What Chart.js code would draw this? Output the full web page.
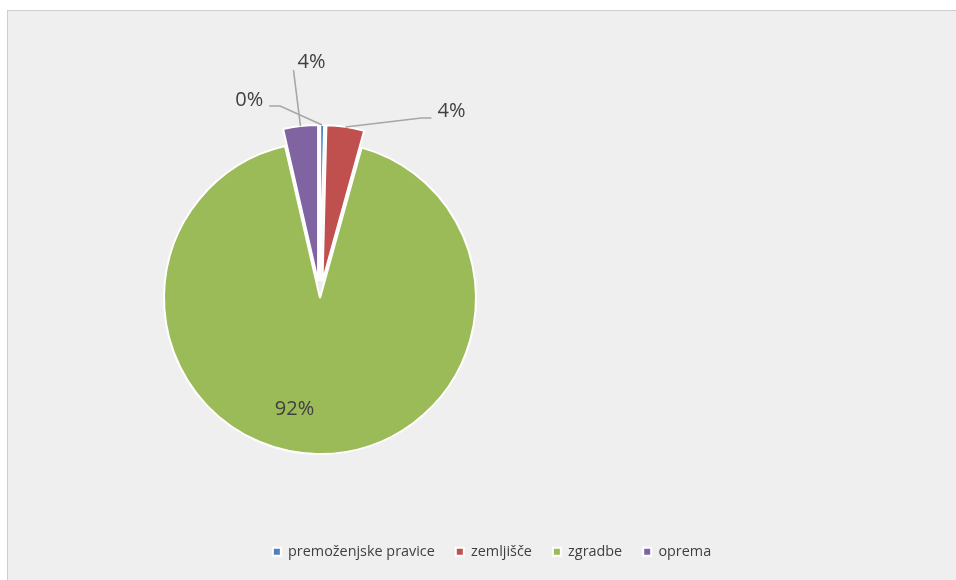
<!DOCTYPE html>
<html>
<head>
<meta charset="utf-8">
<script src="https://cdn.jsdelivr.net/npm/chart.js@4.4.1/dist/chart.umd.min.js"></script>
<style>
    html, body { margin: 0; padding: 0; background: #fff; overflow: hidden; }
    #frame { position: absolute; left: 7px; top: 10px; width: 970px; height: 580px; background: #efefef; border-left: 1px solid #cdcdcd; border-top: 1px solid #cdcdcd; }
    #pie { position: absolute; left: 0; top: 0; }
</style>
</head>
<body>
<div id="frame"></div>
<canvas id="pie" width="956" height="580"></canvas>
<script>
const categories = ['premoženjske pravice', 'zemljišče', 'zgradbe', 'oprema'];
const shares = [0.4, 3.9, 92.1, 3.6];
const colors = ['#4f81bd', '#c0504d', '#9bbb59', '#8064a2'];

// how far each slice is pulled out of the pie (px)
const explode = [17, 17, 0, 17];
// where each percentage label sits, relative to the outer edge of its slice,
// and the bends of its leader line
const labelPlace = [
    { dx: -73, dy: -25, line: [[-42, -19], [-53, -19]] },
    { dx: 106, dy: -16, line: [[76, -9], [86, -9]] },
    { dx: -22, dy: -45, line: null },
    { dx: 11, dy: -64, line: [[-7, -56]] }
];
const pieCenter = { x: 320, y: 298 };

const placePie = {
    id: 'placePie',
    afterLayout(chart) {
        const a = chart.chartArea;
        a.right = 2 * pieCenter.x - a.left;
        a.top = 2 * pieCenter.y - a.bottom;
        a.width = a.right - a.left;
        a.height = a.bottom - a.top;
    },
    afterDatasetUpdate(chart, args) {
        args.meta.data.forEach(function(arc, i) {
            const mid = (arc.startAngle + arc.endAngle) / 2;
            arc.x += Math.cos(mid) * explode[i];
            arc.y += Math.sin(mid) * explode[i];
        });
    }
};

const pctLabels = {
    id: 'pctLabels',
    afterDatasetsDraw(chart) {
        const ctx = chart.ctx;
        const total = shares.reduce((s, v) => s + v, 0);
        chart.getDatasetMeta(0).data.forEach(function(arc, i) {
            const mid = (arc.startAngle + arc.endAngle) / 2;
            const ax = arc.x + Math.cos(mid) * arc.outerRadius;
            const ay = arc.y + Math.sin(mid) * arc.outerRadius;
            const p = labelPlace[i];
            ctx.save();
            if (p.line) {
                ctx.strokeStyle = '#a6a6a6';
                ctx.lineWidth = 1.5;
                ctx.beginPath();
                ctx.moveTo(ax, ay);
                p.line.forEach(pt => ctx.lineTo(ax + pt[0], ay + pt[1]));
                ctx.stroke();
            }
            ctx.fillStyle = '#404040';
            ctx.font = '20px "Open Sans", sans-serif';
            ctx.textAlign = 'center';
            ctx.textBaseline = 'middle';
            ctx.fillText(Math.round(shares[i] / total * 100) + '%', ax + p.dx, ay + p.dy);
            ctx.restore();
        });
    }
};

const ctx = document.getElementById('pie').getContext('2d');
const pieChart = new Chart(ctx, {
    type: 'pie',
    data: {
        labels: categories,
        datasets: [{
            data: shares,
            backgroundColor: colors,
            borderColor: '#ffffff',
            borderWidth: 2
        }]
    },
    options: {
        responsive: false,
        animation: false,
        radius: 156,
        clip: false,
        layout: { padding: { left: 28, right: 0, top: 0, bottom: 11 } },
        plugins: {
            legend: {
                position: 'bottom',
                labels: {
                    boxWidth: 8,
                    boxHeight: 8,
                    padding: 21,
                    color: '#404040',
                    font: { family: '"Open Sans", sans-serif', size: 14.4 }
                }
            },
            tooltip: { enabled: false }
        }
    },
    plugins: [placePie, pctLabels]
});
</script>
</body>
</html>
